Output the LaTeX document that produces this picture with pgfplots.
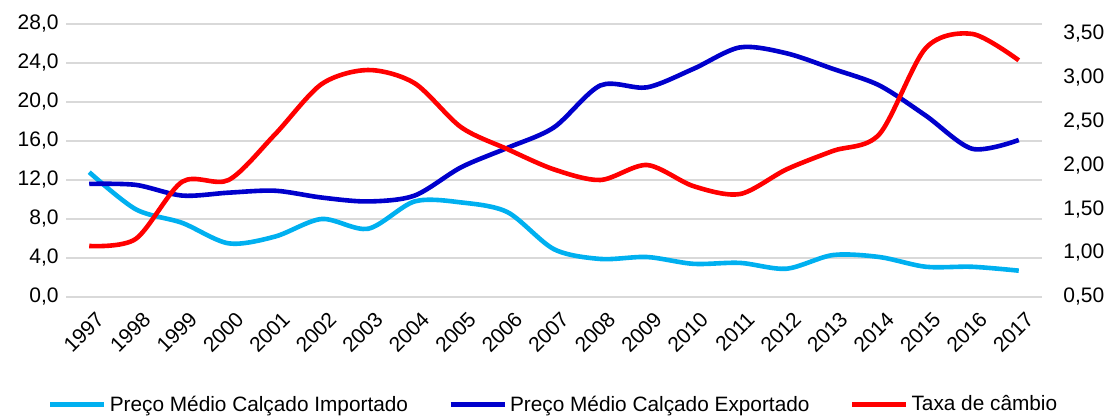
\documentclass[border=0pt]{standalone}
\usepackage{fontspec}
\setmainfont{Liberation Sans}
\usepackage{pgfplots}
\pgfplotsset{compat=1.18}
\definecolor{cimp}{HTML}{00B0F0}
\definecolor{cexp}{HTML}{0000CC}
\definecolor{ctx}{HTML}{FF0000}
\definecolor{grd}{HTML}{D9D9D9}

\pgfplotstableread{
ano imp exp tx
1997 12.8 11.6 1.08
1998 9.0 11.5 1.16
1999 7.6 10.4 1.81
2000 5.5 10.7 1.83
2001 6.2 10.9 2.35
2002 8.0 10.2 2.92
2003 7.0 9.8 3.08
2004 9.8 10.4 2.93
2005 9.7 13.3 2.43
2006 8.7 15.3 2.18
2007 4.9 17.4 1.95
2008 3.9 21.7 1.83
2009 4.1 21.5 2.00
2010 3.4 23.4 1.76
2011 3.5 25.6 1.67
2012 2.9 25.0 1.95
2013 4.3 23.4 2.16
2014 4.1 21.7 2.35
2015 3.1 18.6 3.33
2016 3.1 15.2 3.49
2017 2.7 16.1 3.19
}\datatab

\begin{document}
\fontsize{10.5}{12}\selectfont
\begin{tikzpicture}
\pgfplotsset{
 common/.style={scale only axis, width=488pt, height=136.5pt,
   xmin=1996.5, xmax=2017.5,
   axis line style={draw=none}, major tick length=0pt,
   tick label style={font=\fontsize{10.5}{12}\selectfont},
   /pgf/number format/assume math mode=true},
}
\begin{axis}[common,
  ymin=0, ymax=28, ytick={0,4,...,28},
  ymajorgrids, grid style={grd, line width=0.9pt},
  yticklabel style={/pgf/number format/.cd, fixed, fixed zerofill, precision=1, use comma},
  xtick={1997,...,2017},
  xticklabel style={rotate=45, anchor=east, xshift=1pt, yshift=-10.5pt,
    font=\fontsize{10.5}{12}\selectfont, /pgf/number format/1000 sep={}},
]
\addplot[cimp, line width=2.3pt, smooth] table[x=ano, y=imp] {\datatab};
\addplot[cexp, line width=2.3pt, smooth] table[x=ano, y=exp] {\datatab};
\end{axis}
\begin{axis}[common,
  ymin=0.5, ymax=3.603, ytick={0.5,1,1.5,2,2.5,3,3.5},
  axis y line*=right, axis x line=none,
  yticklabel style={xshift=7pt, /pgf/number format/.cd, fixed, fixed zerofill, precision=2, use comma},
  legend columns=-1,
  legend style={draw=none, fill=none, at={(0.5,-0.3956)}, anchor=center,
    font=\fontsize{10.4}{12}\selectfont,
    /tikz/every even column/.append style={column sep=18.5pt},
    nodes={inner xsep=1.5pt, inner ysep=0pt}},
  legend image code/.code={\draw[#1, line width=2.5pt] (0pt,0pt) -- (27pt,0pt);},
]
\addlegendimage{cimp}
\addlegendentry{Preço Médio Calçado Importado}
\addlegendimage{cexp}
\addlegendentry{Preço Médio Calçado Exportado}
\addplot[ctx, line width=2.3pt, smooth] table[x=ano, y=tx] {\datatab};
\addlegendentry{Taxa de câmbio}
\end{axis}
\pgfresetboundingbox
\useasboundingbox (-33pt,-59.5pt) rectangle (521pt,148.5pt);
\end{tikzpicture}
\end{document}
